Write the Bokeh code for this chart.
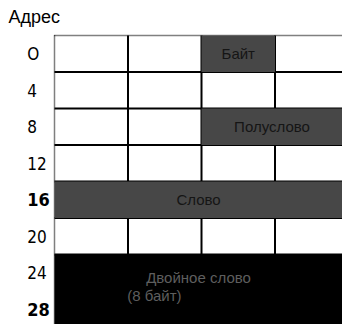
from bokeh.plotting import figure
from bokeh.models import Range1d, ColumnDataSource
from bokeh.core.properties import value
from bokeh.embed import file_html
from bokeh.resources import INLINE

# ---- data ----
title = "Адрес"
addresses = ["О", "4", "8", "12", "16", "20", "24", "28"]
address_bold = [False, False, False, False, True, False, False, True]
n_cols = 4
n_rows = 8

region_names = ["Байт", "Полуслово", "Слово", "Двойное слово"]
region_row0 = [0, 2, 4, 6]
region_row1 = [1, 3, 5, 8]
region_col0 = [2, 2, 0, 0]
region_col1 = [3, 4, 4, 4]
region_sublabel = ["", "", "", "(8 байт)"]

# ---- styling ----
FILL_GRAY = "#474747"
FILL_BLACK = "#000000"
region_fill = [FILL_GRAY, FILL_GRAY, FILL_GRAY, FILL_BLACK]
region_text_color = ["#151515", "#151515", "#151515", "#5e5e5e"]

X0, X1 = -54 / 73.5, 288 / 73.5
Y_TOP, Y_BOT = -35 / 36.5, 289 / 36.5
W, H = 342, 324
p = figure(width=W, height=H, output_backend="svg", toolbar_location=None,
           x_range=Range1d(X0, X1), y_range=Range1d(Y_BOT, Y_TOP),
           min_border=0, min_border_left=0, min_border_right=0,
           min_border_top=0, min_border_bottom=0)
p.axis.visible = False
p.grid.visible = False
p.outline_line_color = None
p.background_fill_color = "white"
p.border_fill_color = "white"

# grid lines (under fills)
hy = [r for r in range(1, 7)]
p.segment(x0=[0] * len(hy), y0=hy, x1=[n_cols + 0.2] * len(hy), y1=hy,
          line_color="black", line_width=2)
vx = [c for c in range(1, n_cols)]
p.segment(x0=vx, y0=[0] * len(vx), x1=vx, y1=[6] * len(vx), line_color="black", line_width=2)
# outer dotted borders
p.segment(x0=[0], y0=[0], x1=[0], y1=[n_rows + 0.2], line_color="black",
          line_width=1.5, line_dash="1 1")
p.segment(x0=[0], y0=[0], x1=[n_cols + 0.2], y1=[0], line_color="black",
          line_width=1.5, line_dash="1 1")

# regions
src = ColumnDataSource(dict(
    left=region_col0,
    right=[c if c < n_cols else n_cols + 0.2 for c in region_col1],
    top=region_row0,
    bottom=[r if r < n_rows else n_rows + 0.2 for r in region_row1],
    fill=region_fill,
))
p.quad(left="left", right="right", top="top", bottom="bottom", source=src,
       fill_color="fill", line_color=None)

# region labels
lx, ly, lt, lc = [], [], [], []
for i, name in enumerate(region_names):
    right_edge = min(region_col1[i], X1)
    cx = (region_col0[i] + right_edge) / 2
    if region_sublabel[i]:
        lx += [cx, cx - 0.6]
        ly += [region_row0[i] + 0.62, region_row0[i] + 1.12]
        lt += [name, region_sublabel[i]]
        lc += [region_text_color[i]] * 2
    else:
        lx.append(cx)
        ly.append((region_row0[i] + region_row1[i]) / 2)
        lt.append(name)
        lc.append(region_text_color[i])
p.text(x=lx, y=ly, text=lt, text_color=lc, text_align="center", text_baseline="middle",
       text_font=value("Liberation Sans"), text_font_size="15px")

# address labels
LABEL_X = -0.37
norm = [(a, i) for i, a in enumerate(addresses) if not address_bold[i]]
bold = [(a, i) for i, a in enumerate(addresses) if address_bold[i]]
p.text(x=[LABEL_X] * len(norm), y=[i + 0.5 for _, i in norm], text=[a for a, _ in norm],
       text_align="left", text_baseline="middle", text_color="black",
       text_font=value("DejaVu Sans Condensed"), text_font_size="17px")
p.text(x=[LABEL_X] * len(bold), y=[i + 0.5 for _, i in bold], text=[a for a, _ in bold],
       text_align="left", text_baseline="middle", text_color="black",
       text_font=value("DejaVu Sans Condensed"), text_font_size="18px", text_font_style="bold")

# title
p.text(x=[X0 + 8 / 73.5], y=[Y_TOP + 16 / 36.5], text=[title], text_align="left",
       text_baseline="middle", text_color="black",
       text_font=value("Liberation Sans"), text_font_size="18px")

open("out.html", "w").write(file_html(p, INLINE))
